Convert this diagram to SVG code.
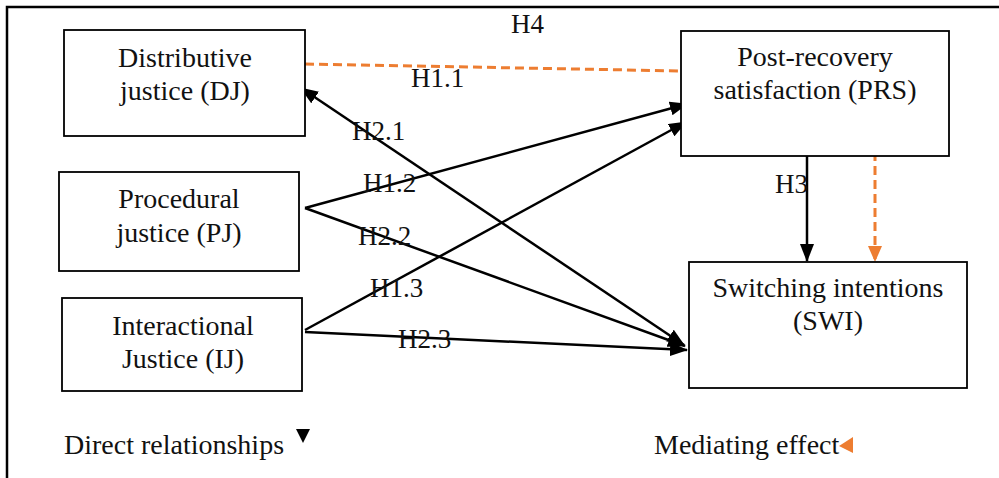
<svg xmlns="http://www.w3.org/2000/svg" width="999" height="478" viewBox="0 0 999 478">
<defs>
<style>
.box{fill:#fff;stroke:#000;stroke-width:1.8}
.t{font-family:"Liberation Serif","Times New Roman",serif;font-size:28px;fill:#111}
.c{text-anchor:middle}
.lbl{font-family:"Liberation Serif","Times New Roman",serif;font-size:27px;fill:#111}
.ln{fill:none;stroke:#000;stroke-width:2.5}
.dash{fill:none;stroke:#ED7D31;stroke-width:3;stroke-dasharray:9 5}
</style>
<marker id="ah" viewBox="0 0 18 14" refX="17" refY="7" markerWidth="18" markerHeight="14" markerUnits="userSpaceOnUse" orient="auto-start-reverse">
<path d="M0,0 L18,7 L0,14 z" fill="#000"/>
</marker>
<marker id="aho" viewBox="0 0 16 14" refX="15" refY="7" markerWidth="16" markerHeight="14" markerUnits="userSpaceOnUse" orient="auto">
<path d="M0,0 L16,7 L0,14 z" fill="#ED7D31"/>
</marker>
</defs>
<rect width="999" height="478" fill="#fff"/>
<path d="M7,478 V7 H999" fill="none" stroke="#000" stroke-width="2.5"/>

<g id="connectors">
<line class="dash" x1="305" y1="64" x2="683" y2="71"/>
<line class="ln" x1="684" y1="345" x2="301" y2="88" marker-start="url(#ah)" marker-end="url(#ah)"/>
<line class="ln" x1="305" y1="208" x2="687" y2="104" marker-end="url(#ah)"/>
<line class="ln" x1="305" y1="330" x2="686" y2="122" marker-end="url(#ah)"/>
<line class="ln" x1="305" y1="208" x2="685" y2="346" marker-end="url(#ah)"/>
<line class="ln" x1="305" y1="332" x2="687" y2="350" marker-end="url(#ah)"/>
<line class="ln" x1="807" y1="156" x2="807" y2="261" marker-end="url(#ah)"/>
<line class="dash" x1="875" y1="152" x2="875" y2="261" marker-end="url(#aho)"/>
</g>

<g id="labels">
<text class="lbl" x="511" y="33">H4</text>
<text class="lbl" x="411" y="87">H1.1</text>
<text class="lbl" x="352" y="140">H2.1</text>
<text class="lbl" x="363" y="192">H1.2</text>
<text class="lbl" x="358" y="245">H2.2</text>
<text class="lbl" x="370" y="297">H1.3</text>
<text class="lbl" x="398" y="348">H2.3</text>
<text class="lbl" x="775" y="193">H3</text>
</g>

<g id="DJ">
<rect class="box" x="64" y="30" width="241" height="106"/>
<text class="t c" x="185" y="67">Distributive</text>
<text class="t c" x="185" y="100">justice (DJ)</text>
</g>
<g id="PJ">
<rect class="box" x="59" y="172" width="240" height="99"/>
<text class="t c" x="179" y="208">Procedural</text>
<text class="t c" x="179" y="242">justice (PJ)</text>
</g>
<g id="IJ">
<rect class="box" x="62" y="298" width="240" height="93"/>
<text class="t c" x="183" y="335">Interactional</text>
<text class="t c" x="183" y="368">Justice (IJ)</text>
</g>
<g id="PRS">
<rect class="box" x="681" y="31" width="268" height="125"/>
<text class="t c" x="815" y="66">Post-recovery</text>
<text class="t c" x="815" y="99">satisfaction (PRS)</text>
</g>
<g id="SWI">
<rect class="box" x="689" y="262" width="278" height="126"/>
<text class="t c" x="828" y="297">Switching intentions</text>
<text class="t c" x="828" y="330">(SWI)</text>
</g>

<g id="legend">
<text class="t" x="64" y="454">Direct relationships</text>
<polygon points="296,429 310,429 303,443" fill="#000"/>
<text class="t" x="654" y="454">Mediating effect</text>
<polygon points="853,437 853,453 839,446" fill="#ED7D31"/>
</g>
</svg>
